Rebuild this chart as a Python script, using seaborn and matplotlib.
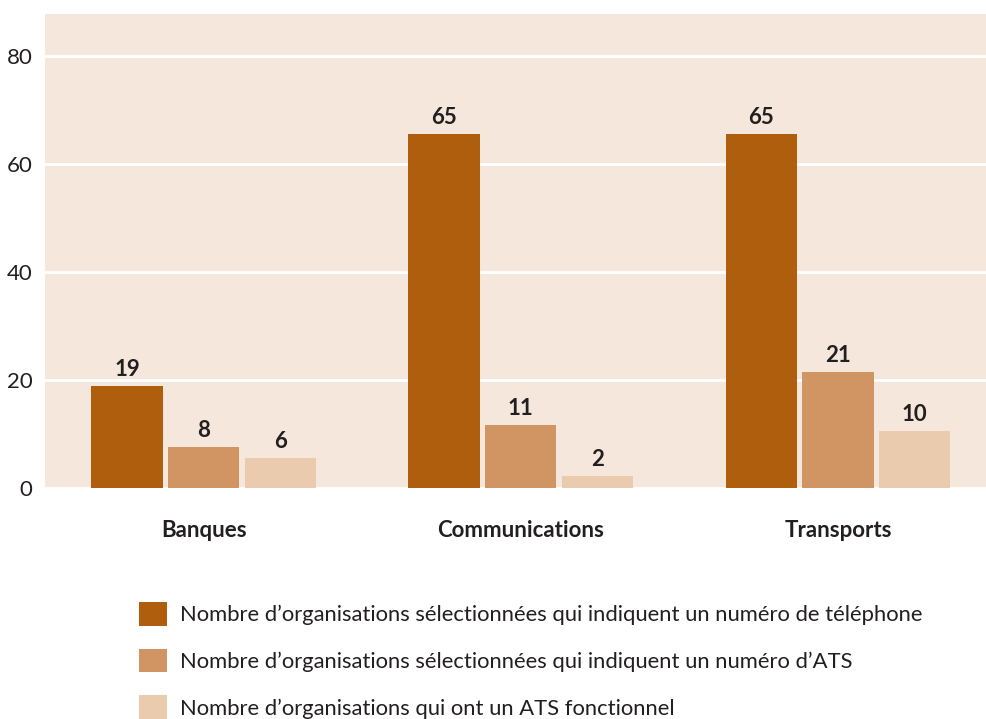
import matplotlib
matplotlib.use("Agg")
import matplotlib.pyplot as plt
from matplotlib.patches import Patch
import pandas as pd
import seaborn as sns

categories = ["Banques", "Communications", "Transports"]
series = [
    "Nombre d’organisations sélectionnées qui indiquent un numéro de téléphone",
    "Nombre d’organisations sélectionnées qui indiquent un numéro d’ATS",
    "Nombre d’organisations qui ont un ATS fonctionnel",
]
tel = [18.9, 65.5, 65.5]
ats = [7.6, 11.7, 21.5]
ats_ok = [5.6, 2.2, 10.6]
tel_lbl = ["19", "65", "65"]
ats_lbl = ["8", "11", "21"]
ats_ok_lbl = ["6", "2", "10"]
colors = ["#AF5E0E", "#D19563", "#EACBAE"]

rows = []
for s, vals in zip(series, [tel, ats, ats_ok]):
    for c, v in zip(categories, vals):
        rows.append({"cat": c, "serie": s, "val": v})
df = pd.DataFrame(rows)

sns.set_style("white")
plt.rcParams["font.family"] = ["Lato", "DejaVu Sans"]

fig = plt.figure(figsize=(9.87, 7.19), dpi=100)
ax = fig.add_axes([45 / 987, 231 / 719, 1 - 45 / 987, 474 / 719])
ax.set_facecolor("#F5E7DB")

sns.barplot(data=df, x="cat", y="val", hue="serie", palette=colors,
            width=0.725, gap=0.07, saturation=1, legend=False,
            linewidth=0, ax=ax)

for cont, lbls in zip(ax.containers, [tel_lbl, ats_lbl, ats_ok_lbl]):
    ax.bar_label(cont, labels=lbls, padding=4.5, fontsize=16, fontweight="bold",
                 color="#231f20")

ax.set_ylim(0, 87.8)
ax.set_xlim(-0.5, 2.47)
ax.set_yticks([0, 20, 40, 60, 80])
ax.yaxis.grid(True, color="white", linewidth=2)
ax.set_axisbelow(True)
for sp in ax.spines.values():
    sp.set_visible(False)
ax.set_xlabel("")
ax.set_ylabel("")
ax.tick_params(axis="y", length=0, pad=9, labelsize=16, labelcolor="#231f20")
ax.tick_params(axis="x", length=0, pad=23, labelsize=16, labelcolor="#231f20")
for t in ax.get_xticklabels():
    t.set_fontweight("bold")

handles = [Patch(facecolor=c, edgecolor="none") for c in colors]
fig.legend(handles, series, loc="upper left",
           bbox_to_anchor=(139 / 987, 1 - 602 / 719), frameon=False,
           fontsize=15.8, handlelength=1.28, handleheight=1.28,
           handletextpad=0.6, labelspacing=1.05, borderpad=0,
           borderaxespad=0, labelcolor="#231f20")

fig.savefig("out.png", dpi=100)
